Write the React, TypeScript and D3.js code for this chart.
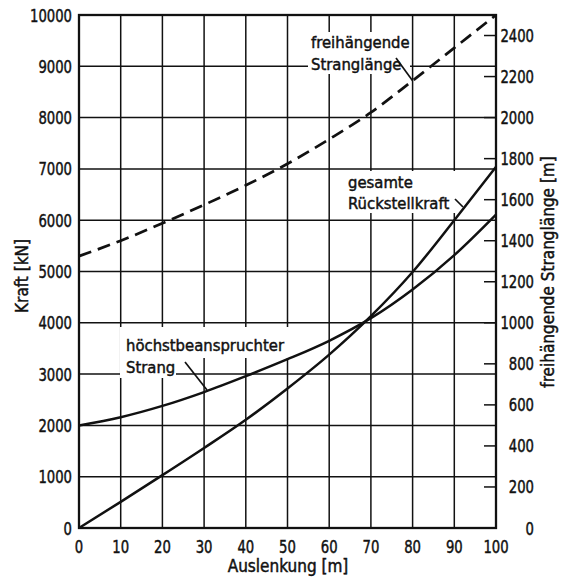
import React from "react";
import * as d3 from "d3";

// Auslenkung in m
const auslenkung = [0, 10, 20, 30, 40, 50, 60, 70, 80, 90, 100];
// gesamte Rückstellkraft in kN
const rueckstellkraft = [0, 510, 1030, 1560, 2110, 2720, 3380, 4130, 4990, 6000, 7040];
// höchstbeanspruchter Strang in kN
const hoechstStrang = [2000, 2160, 2380, 2650, 2960, 3290, 3650, 4090, 4650, 5320, 6110];
// freihängende Stranglänge in m
const stranglaenge = [1325, 1400, 1485, 1575, 1670, 1775, 1895, 2025, 2180, 2340, 2500];

const xTicks = [0, 10, 20, 30, 40, 50, 60, 70, 80, 90, 100];
const kraftTicks = [0, 1000, 2000, 3000, 4000, 5000, 6000, 7000, 8000, 9000, 10000];
const laengeTicks = [0, 200, 400, 600, 800, 1000, 1200, 1400, 1600, 1800, 2000, 2200, 2400];

const W = 561;
const H = 578;
const left = 79;
const right = 496;
const top = 15;
const bottom = 528;

const FONT = "'DejaVu Sans Condensed', 'Liberation Sans Narrow', sans-serif";
const INK = "#111";
const DIGIT_W = 8.4;

export default function App() {
  const x = d3.scaleLinear().domain([0, 100]).range([left, right]);
  const yK = d3.scaleLinear().domain([0, 10000]).range([bottom, top]);
  const yL = d3.scaleLinear().domain([0, 2500]).range([bottom, top]);

  const lineK = (vals: number[]) =>
    d3
      .line<number>()
      .x((_, i) => x(auslenkung[i]))
      .y((d) => yK(d))
      .curve(d3.curveMonotoneX)(vals) || "";
  const lineL =
    d3
      .line<number>()
      .x((_, i) => x(auslenkung[i]))
      .y((d) => yL(d))
      .curve(d3.curveMonotoneX)(stranglaenge) || "";

  const textStyle = { fill: INK, stroke: INK, strokeWidth: 0.45 };
  const tl = (t: number) => String(t).length * DIGIT_W;

  return (
    <svg
      width={W}
      height={H}
      style={{ position: "absolute", left: 0, top: 0, background: "#fff" }}
      fontFamily={FONT}
    >
      <rect x={0} y={0} width={W} height={H} fill="#fff" />

      {/* grid */}
      {xTicks.map((t) => (
        <line key={"gx" + t} x1={x(t)} x2={x(t)} y1={top} y2={bottom} stroke={INK} strokeWidth={1.5} />
      ))}
      {kraftTicks.map((t) => (
        <line key={"gy" + t} x1={left} x2={right} y1={yK(t)} y2={yK(t)} stroke={INK} strokeWidth={1.5} />
      ))}

      {/* right axis ticks */}
      {laengeTicks.map((t) => (
        <line key={"rt" + t} x1={right - 12} x2={right} y1={yL(t)} y2={yL(t)} stroke={INK} strokeWidth={1.5} />
      ))}

      {/* label backgrounds */}
      <rect x={308} y={32} width={102} height={42} fill="#fff" />
      <rect x={343} y={171} width={113} height={42} fill="#fff" />
      <rect x={120} y={327} width={171} height={31} fill="#fff" />
      <rect x={120} y={356} width={56} height={22} fill="#fff" />

      {/* frame */}
      <rect x={left} y={top} width={right - left} height={bottom - top} fill="none" stroke={INK} strokeWidth={2.3} />

      {/* curves */}
      <path d={lineL} fill="none" stroke={INK} strokeWidth={2.7} strokeDasharray="13 7" />
      <path d={lineK(rueckstellkraft)} fill="none" stroke={INK} strokeWidth={2.5} />
      <path d={lineK(hoechstStrang)} fill="none" stroke={INK} strokeWidth={2.5} />

      {/* leaders */}
      <line x1={396} y1={58} x2={x(80)} y2={yL(2180)} stroke={INK} strokeWidth={1.7} />
      <line x1={455} y1={199} x2={463} y2={207} stroke={INK} strokeWidth={1.7} />
      <line x1={185} y1={362} x2={207} y2={390} stroke={INK} strokeWidth={1.7} />

      {/* curve labels */}
      <g fontSize={16.5} style={textStyle}>
        <text x={311} y={48}>freihängende</text>
        <text x={311} y={70}>Stranglänge</text>
        <text x={348} y={188}>gesamte</text>
        <text x={348} y={209}>Rückstellkraft</text>
        <text x={126} y={351}>höchstbeanspruchter</text>
        <text x={126} y={373}>Strang</text>
      </g>

      {/* left tick labels */}
      <g fontSize={18} style={textStyle} textAnchor="end">
        {kraftTicks.map((t) => (
          <text key={"lk" + t} x={72} y={yK(t) + 6.5} textLength={tl(t)} lengthAdjust="spacingAndGlyphs">
            {t}
          </text>
        ))}
      </g>
      {/* right tick labels */}
      <g fontSize={18} style={textStyle} textAnchor="end">
        {laengeTicks.map((t) => (
          <text key={"rl" + t} x={534} y={yL(t) + 6.5} textLength={tl(t)} lengthAdjust="spacingAndGlyphs">
            {t}
          </text>
        ))}
      </g>
      {/* bottom tick labels */}
      <g fontSize={18} style={textStyle} textAnchor="middle">
        {xTicks.map((t) => (
          <text key={"bx" + t} x={x(t)} y={553} textLength={tl(t)} lengthAdjust="spacingAndGlyphs">
            {t}
          </text>
        ))}
      </g>

      {/* axis titles */}
      <text x={288} y={572} fontSize={17} style={textStyle} textAnchor="middle">
        Auslenkung [m]
      </text>
      <text transform={`translate(28, 276) rotate(-90)`} fontSize={17} style={textStyle} textAnchor="middle">
        Kraft [kN]
      </text>
      <text transform={`translate(554, 272) rotate(-90)`} fontSize={17} style={textStyle} textAnchor="middle">
        freihängende Stranglänge [m]
      </text>
    </svg>
  );
}
